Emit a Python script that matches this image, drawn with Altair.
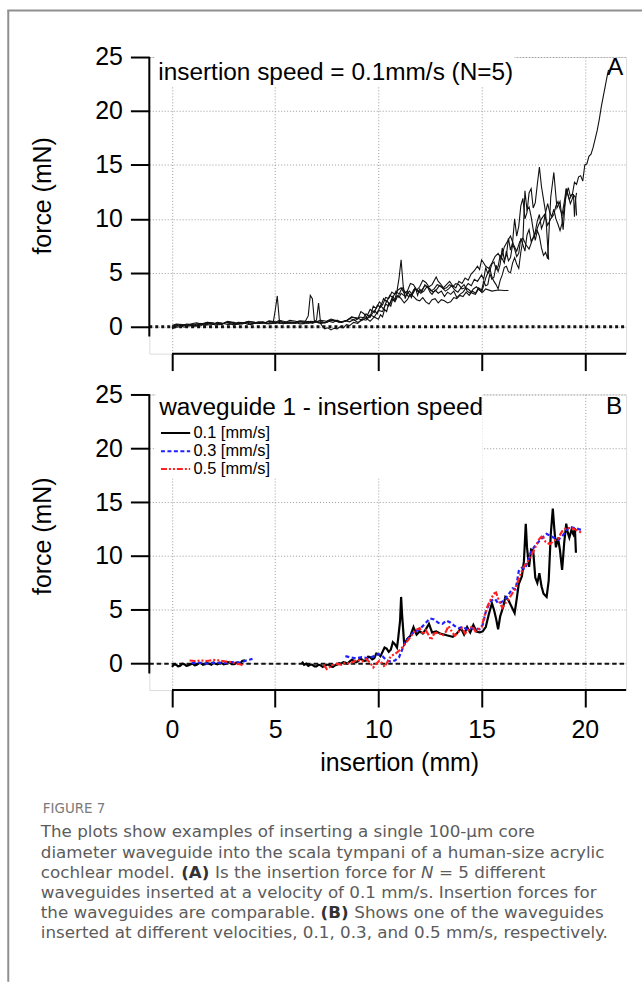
import altair as alt
import pandas as pd

# ------------------------------------------------------------------ data
x_ticks = [0, 5, 10, 15, 20]
y_ticks = [0, 5, 10, 15, 20, 25]

# Panel A: five waveguides at 0.1 mm/s  (insertion mm, force mN)
trace_a1 = [(0.0,-0.1),(0.2,0.05),(0.4,0.1),(0.6,-0.05),(0.8,0.2),(1.0,0.05),(1.2,0.15),(1.4,0.3),(1.6,0.1),
            (1.8,0.3),(2.0,0.2),(2.2,0.35),(2.4,0.2),(2.6,0.4),(2.8,0.3),(3.0,0.15),(3.2,0.35),(3.4,0.25),
            (3.6,0.4),(3.8,0.2),(4.0,0.35),(4.2,0.3),(4.4,0.45),(4.6,0.25),(4.8,0.45),(5.0,0.3),(5.2,0.4),
            (5.4,0.25),(5.6,0.45),(5.8,0.35),(6.0,0.3),(6.2,0.5),(6.4,0.35),(6.6,0.5),(6.8,0.3),(7.0,0.45),
            (7.2,0.55),(7.4,0.35),(7.6,0.5),(7.8,0.4),(8.0,0.6),(8.2,0.4),(8.4,0.55),(8.6,0.45),(8.8,0.65),
            (9.0,0.4),(9.2,0.6),(9.4,0.8),(9.6,0.5),(9.8,0.9),(10.0,0.7),(10.1,1.1),(10.2,0.9),
            (10.3,1.6),(10.4,1.4),(10.5,2.2),(10.6,1.9),(10.7,2.6),(10.8,2.4),(10.9,2.9),(11.0,2.7),(11.1,3.1),
            (11.3,2.8),(11.5,3.3),(11.65,3.0),(11.8,3.5),(11.95,3.2),(12.1,3.4),(12.25,3.8),(12.4,3.7),
            (12.55,3.3),(12.7,3.5),(12.85,3.9),(13.0,3.8),(13.15,3.5),(13.3,3.6),(13.45,3.9),(13.6,3.7),
            (13.75,4.0),(13.9,3.9),(14.05,3.5),(14.2,3.6),(14.35,4.0),(14.5,3.8),(14.65,4.4),(14.8,4.2),
            (15.0,4.8),(15.1,4.4),(15.2,5.5),(15.3,4.9),(15.4,5.2),(15.5,5.8),(15.6,6.0),(15.7,5.3),(15.8,5.6),
            (15.9,6.6),(16.0,6.3),(16.1,5.9),(16.2,7.0),(16.3,6.1),(16.4,6.4),(16.5,7.6),(16.6,7.2),(16.7,6.5),
            (16.8,6.8),(16.9,8.2),(17.0,7.6),(17.1,7.0),(17.2,8.5),(17.3,9.0),(17.4,7.9),(17.5,8.3),(17.6,8.8),
            (17.7,9.8),(17.8,10.4),(17.9,9.1),(18.0,9.6),(18.1,10.6),(18.2,11.4),(18.3,10.6),(18.4,10.2),
            (18.5,10.9),(18.6,10.0),(18.7,9.5),(18.8,8.9),(18.9,9.6),(19.0,11.0),(19.1,12.2),(19.2,12.9),
            (19.3,12.1),(19.4,12.3),(19.5,13.4),(19.6,13.2),(19.7,13.9),(19.8,14.0),(19.9,13.5),
            (20.0,15.0),(20.1,15.1),(20.2,15.8),(20.3,16.0),(20.4,16.6),(20.5,17.4),(20.6,18.2),(20.7,19.2),
            (20.8,20.4),(20.9,21.4),(21.0,22.4),(21.08,23.2),(21.15,23.8)]
trace_a2 = [(0.1,0.0),(0.3,0.15),(0.5,0.2),(0.7,0.05),(1.0,0.1),(1.2,0.25),(1.5,0.3),(1.7,0.15),(2.0,0.2),
            (2.2,0.4),(2.5,0.3),(2.7,0.2),(3.0,0.25),(3.2,0.4),(3.5,0.35),(3.7,0.2),(4.0,0.3),(4.2,0.45),
            (4.5,0.4),(4.7,0.25),(5.0,0.35),(5.2,0.5),(5.5,0.3),(5.7,0.45),(6.0,0.4),(6.2,0.25),(6.5,0.3),
            (6.7,0.5),(7.0,0.45),(7.2,0.3),(7.5,0.4),(7.7,0.6),(8.0,0.5),(8.2,0.4),(8.5,0.6),(8.7,0.9),
            (9.0,0.8),(9.2,0.6),(9.4,1.2),(9.6,0.9),(9.8,1.5),(9.95,1.2),(10.1,2.0),(10.25,1.6),(10.4,2.4),
            (10.55,2.1),(10.7,2.8),(10.8,2.5),(10.9,3.3),(11.0,4.5),(11.1,6.2),(11.2,3.8),(11.3,2.6),
            (11.4,3.3),(11.5,3.0),(11.6,2.7),(11.7,3.4),(11.8,3.6),(11.9,2.9),(12.0,3.5),(12.1,3.2),(12.25,3.9),
            (12.4,3.6),(12.5,3.2),(12.6,3.0),(12.75,3.4),(12.9,3.1),(13.05,3.3),(13.2,2.8),(13.35,3.2),
            (13.5,3.0),(13.65,3.3),(13.8,2.7),(13.95,3.0),(14.1,3.2),(14.25,3.6),(14.4,3.4),(14.55,3.1),
            (14.7,3.0),(14.85,3.5),(15.0,3.2),(15.1,3.8),(15.2,4.5),(15.3,5.0),(15.4,5.4),(15.5,4.6),
            (15.6,4.2),(15.7,3.9),(15.8,3.5),(15.9,4.3),(16.0,4.8),(16.1,5.5),(16.2,5.6),(16.3,5.1),(16.4,5.0),
            (16.5,5.9),(16.6,6.4),(16.7,5.8),(16.8,5.4),(16.9,6.9),(17.0,8.0),(17.1,12.6),(17.2,10.8),
            (17.3,11.1),(17.4,10.2),(17.5,9.0),(17.6,8.0),(17.7,8.9),(17.8,8.4),(17.9,7.3),(18.0,6.6),
            (18.1,6.9),(18.2,6.3),(18.35,12.0),(18.5,14.3),(18.65,11.0),(18.8,11.6),(18.95,9.0),(19.1,12.8),
            (19.25,11.8),(19.4,12.3),(19.55,12.0),(19.6,10.3)]
trace_a3 = [(0.0,-0.2),(0.2,-0.05),(0.4,0.0),(0.6,0.15),(0.9,0.2),(1.1,0.05),(1.4,0.1),(1.6,0.3),(1.9,0.3),
            (2.1,0.15),(2.4,0.2),(2.6,0.4),(2.9,0.35),(3.1,0.2),(3.4,0.3),(3.6,0.45),(3.9,0.25),(4.1,0.4),
            (4.4,0.4),(4.6,0.3),(4.9,0.35),(5.0,1.5),(5.1,2.85),(5.2,0.6),(5.4,0.4),(5.6,0.3),(5.9,0.35),
            (6.1,0.5),(6.4,0.45),(6.6,0.3),(6.9,0.5),(7.1,0.35),(7.4,0.4),(7.6,0.6),(7.9,0.55),(8.1,0.4),
            (8.4,0.5),(8.6,0.75),(8.9,0.6),(9.1,0.9),(9.4,0.8),(9.6,1.6),(9.8,1.3),(9.95,2.0),(10.1,1.8),
            (10.25,2.6),(10.4,2.3),(10.55,2.9),(10.7,2.7),(10.85,3.3),(11.0,3.0),(11.15,3.6),(11.3,3.2),
            (11.45,2.8),(11.6,3.0),(11.75,3.5),(11.9,3.4),(12.05,3.1),(12.2,3.3),(12.35,3.7),(12.5,3.5),
            (12.65,3.2),(12.8,3.4),(12.95,3.8),(13.1,3.6),(13.25,3.3),(13.4,3.5),(13.55,3.8),(13.7,3.4),
            (13.85,3.2),(14.0,3.6),(14.15,3.9),(14.3,3.3),(14.45,3.1),(14.6,3.5),(14.75,3.7),(14.9,3.4),
            (15.05,3.2),(15.2,3.5),(15.5,3.3),(15.8,3.4),(16.1,3.35),(16.3,3.35)]
trace_a4 = [(0.0,0.1),(0.2,0.25),(0.5,0.2),(0.7,0.1),(1.0,0.3),(1.2,0.35),(1.5,0.2),(1.7,0.4),(2.0,0.35),
            (2.2,0.2),(2.5,0.3),(2.7,0.45),(3.0,0.4),(3.2,0.25),(3.5,0.35),(3.7,0.5),(4.0,0.4),(4.2,0.3),
            (4.5,0.35),(4.7,0.55),(5.0,0.45),(5.2,0.3),(5.5,0.4),(5.7,0.6),(6.0,0.5),(6.2,0.35),(6.4,0.3),
            (6.6,1.0),(6.7,2.9),(6.8,2.6),(6.9,0.5),(7.0,0.6),(7.1,2.2),(7.2,0.3),(7.3,0.0),(7.4,-0.2),
            (7.55,-0.1),(7.7,-0.3),(7.85,-0.15),(8.0,-0.2),(8.15,0.0),(8.3,-0.1),(8.45,0.2),(8.6,0.1),
            (8.8,0.4),(9.0,0.3),(9.2,0.7),(9.4,0.6),(9.6,1.1),(9.8,0.9),(10.0,1.5),(10.2,1.4),(10.35,2.1),
            (10.5,1.9),(10.65,2.6),(10.8,2.3),(10.95,2.9),(11.1,2.6),(11.25,2.2),(11.4,2.5),(11.55,3.0),
            (11.7,2.8),(11.85,2.5),(12.0,2.4),(12.15,2.7),(12.3,2.3),(12.45,2.1),(12.6,2.5),(12.75,2.6),
            (12.9,2.2),(13.05,2.5),(13.2,2.4),(13.35,2.2),(13.5,2.3),(13.65,2.7),(13.8,2.6),(13.95,2.9),
            (14.1,2.8),(14.25,3.2),(14.4,2.9),(14.55,3.3),(14.7,3.1),(14.85,3.6),(15.0,3.4),(15.1,4.2),
            (15.2,3.8),(15.3,3.9),(15.4,4.9),(15.5,4.4),(15.6,4.6),(15.7,5.7),(15.8,5.1),(15.9,5.8),(16.0,7.3),
            (16.1,6.2),(16.2,6.6),(16.3,8.2),(16.4,7.1),(16.5,7.8),(16.6,10.0),(16.7,8.4),(16.8,9.3),
            (16.9,11.2),(17.0,11.9),(17.1,10.0),(17.2,10.6),(17.3,12.4),(17.4,12.8),(17.5,11.0),(17.6,11.5),
            (17.7,13.2),(17.8,14.8),(17.9,13.0),(18.0,11.8),(18.1,10.6),(18.2,7.5),(18.25,6.2)]
trace_a5 = [(0.0,0.0),(0.2,0.2),(0.5,0.1),(0.7,0.25),(1.0,0.2),(1.2,0.1),(1.5,0.3),(1.7,0.4),(2.0,0.25),
            (2.2,0.35),(2.5,0.3),(2.7,0.5),(3.0,0.35),(3.2,0.25),(3.5,0.3),(3.7,0.45),(4.0,0.4),(4.2,0.3),
            (4.5,0.35),(4.7,0.5),(5.0,0.4),(5.2,0.6),(5.5,0.45),(5.7,0.35),(6.0,0.4),(6.2,0.55),(6.5,0.5),
            (6.7,0.35),(7.0,0.45),(7.2,0.6),(7.5,0.5),(7.7,0.7),(8.0,0.55),(8.2,0.45),(8.5,0.6),(8.7,0.9),
            (9.0,0.7),(9.15,1.4),(9.3,1.2),(9.45,0.8),(9.6,0.9),(9.75,1.9),(9.9,1.7),(10.05,2.3),(10.2,2.0),
            (10.35,2.7),(10.5,2.6),(10.65,3.2),(10.8,3.0),(10.95,3.4),(11.1,3.6),(11.25,3.1),(11.4,3.3),
            (11.55,4.0),(11.7,3.9),(11.85,3.4),(12.0,3.7),(12.15,4.3),(12.3,4.1),(12.45,3.7),(12.6,3.9),
            (12.8,4.6),(12.9,4.2),(13.0,4.0),(13.15,3.6),(13.3,3.9),(13.45,4.2),(13.6,3.8),(13.75,3.6),
            (13.9,4.2),(14.05,4.0),(14.2,4.5),(14.35,4.3),(14.5,4.9),(14.65,5.2),(14.8,5.6),(14.9,5.3),
            (15.0,6.2),(15.1,5.9),(15.2,5.6),(15.35,5.4),(15.5,5.9),(15.65,6.5),(15.8,6.8),(15.95,6.3),
            (16.1,7.4),(16.25,7.9),(16.4,8.4),(16.55,7.6),(16.7,7.0),(16.85,7.9),(17.0,8.2),(17.15,7.6),
            (17.3,7.2),(17.45,8.0),(17.6,8.6),(17.75,9.4),(17.9,10.0),(18.05,10.4),(18.2,9.4),(18.35,10.0),
            (18.5,10.4),(18.6,11.2),(18.7,11.6),(18.8,10.9),(18.9,10.4),(19.0,11.5),(19.1,12.8),(19.2,12.1),
            (19.3,11.4),(19.4,11.9),(19.45,12.3),(19.5,10.2),(19.55,11.8),(19.6,12.4)]

# Panel B: waveguide 1 at three insertion speeds (two recorded stretches each)
speed_labels = ["0.1 [mm/s]", "0.3 [mm/s]", "0.5 [mm/s]"]
speed_01_part1 = [(0.0,-0.3),(0.1,-0.05),(0.2,-0.1),(0.3,-0.25),(0.4,-0.2),(0.5,0.0),(0.6,-0.05),(0.7,-0.2),
                  (0.8,-0.15),(0.9,-0.05),(1.0,0.0),(1.1,-0.15),(1.2,-0.1),(1.3,0.05),(1.4,0.05),(1.5,-0.1),
                  (1.6,-0.05),(1.7,0.05),(1.8,0.0),(1.9,-0.1),(2.0,0.1),(2.1,0.0),(2.2,-0.05),(2.3,0.1),
                  (2.4,0.05),(2.5,-0.05),(2.6,0.0),(2.7,0.15),(2.8,0.1),(2.9,-0.05),(3.0,-0.05),(3.1,0.1),
                  (3.2,0.1),(3.3,0.0),(3.4,0.25),(3.5,0.3),(3.55,0.2)]
speed_01_part2 = [(6.3,0.2),(6.4,-0.1),(6.5,0.0),(6.6,-0.2),(6.7,-0.1),(6.8,-0.1),(6.9,-0.25),(7.0,-0.25),
                  (7.1,-0.1),(7.2,-0.15),(7.3,-0.3),(7.4,-0.2),(7.5,-0.1),(7.6,-0.1),(7.7,-0.25),
                  (7.8,-0.3),(7.9,-0.15),(8.0,-0.1),(8.1,0.05),(8.2,0.0),(8.3,0.15),(8.4,0.1),(8.5,0.0),
                  (8.6,0.2),(8.7,0.35),(8.8,0.3),(8.9,0.15),(9.0,0.2),(9.1,0.45),(9.2,0.4),(9.3,0.25),(9.4,0.3),
                  (9.5,0.65),(9.6,0.6),(9.7,0.4),(9.8,0.5),(9.9,0.95),(10.0,0.9),(10.1,0.7),(10.2,1.1),(10.3,1.5),
                  (10.4,1.4),(10.5,1.1),(10.6,1.3),(10.7,2.0),(10.8,1.8),(10.9,1.5),(10.95,2.2),
                  (11.05,4.0),(11.1,6.2),(11.15,4.5),(11.25,1.8),(11.4,2.3),(11.55,2.6),(11.7,3.4),(11.85,2.7),
                  (12.0,3.0),(12.15,2.8),(12.3,3.2),(12.45,3.7),(12.6,2.9),(12.8,3.0),(13.0,2.8),(13.2,2.7),
                  (13.4,2.6),(13.6,2.5),(13.8,2.8),(14.0,3.3),(14.15,2.7),(14.3,3.4),(14.45,2.9),(14.6,3.6),
                  (14.75,3.0),(14.9,2.9),(15.05,3.0),(15.2,3.4),(15.35,4.6),(15.5,5.6),(15.6,5.0),(15.7,4.2),
                  (15.8,3.2),(15.9,4.4),(16.05,5.3),(16.15,6.2),(16.3,5.9),(16.45,5.3),(16.6,4.7),(16.7,6.0),
                  (16.8,7.4),(16.95,8.1),(17.05,9.5),(17.14,13.0),(17.2,10.8),(17.3,9.0),(17.4,10.6),(17.5,10.5),
                  (17.6,8.0),(17.7,7.5),(17.8,8.4),(17.9,7.2),(18.0,6.5),(18.15,6.2),(18.25,7.7),(18.35,12.0),
                  (18.45,14.4),(18.52,12.6),(18.6,10.8),(18.7,11.7),(18.8,10.5),(18.9,8.7),(18.95,9.9),
                  (19.0,11.2),(19.1,13.0),(19.17,12.2),(19.25,11.7),(19.35,12.4),(19.45,12.0),(19.52,12.6),
                  (19.57,10.3)]
speed_03_part1 = [(0.95,0.05),(1.3,0.1),(1.7,0.0),(2.1,0.1),(2.5,0.05),(2.9,0.15),(3.3,0.1),(3.6,0.3),(3.9,0.45)]
speed_03_part2 = [(8.4,0.7),(8.6,0.6),(8.9,0.5),(9.2,0.6),(9.5,0.5),(9.8,0.7),(10.0,0.9),(10.2,0.7),(10.4,0.3),
                  (10.6,0.2),(10.8,0.3),(11.0,0.6),(11.15,1.3),(11.3,2.0),(11.5,2.5),(11.7,2.9),(11.9,3.1),
                  (12.1,3.4),(12.3,3.8),(12.5,4.2),(12.7,4.1),(12.9,3.8),(13.1,3.7),(13.3,4.0),(13.5,3.8),
                  (13.7,3.5),(13.9,3.3),(14.1,3.4),(14.3,3.2),(14.5,3.3),(14.7,3.3),(14.9,3.2),(15.05,3.6),
                  (15.2,4.8),(15.35,5.5),(15.5,5.9),(15.65,6.0),(15.8,5.6),(15.95,5.7),(16.1,5.9),(16.3,6.4),
                  (16.5,7.0),(16.65,6.9),(16.8,8.6),(16.95,8.9),(17.1,8.8),(17.25,9.6),(17.4,10.4),(17.6,11.0),
                  (17.8,11.4),(18.0,11.8),(18.15,12.05),(18.3,11.9),(18.5,11.7),(18.7,11.5),(18.9,11.8),
                  (19.1,12.4),(19.3,12.7),(19.5,12.6),(19.7,12.5),(19.85,12.4)]
speed_05_part1 = [(0.85,0.3),(1.1,0.25),(1.4,0.3),(1.7,0.25),(2.0,0.35),(2.3,0.3),(2.6,0.2),(2.9,0.15),
                  (3.1,0.0),(3.3,-0.05),(3.5,-0.2)]
speed_05_part2 = [(7.35,-0.1),(7.5,-0.5),(7.65,-0.3),(7.8,-0.1),(8.0,0.0),(8.2,-0.1),(8.4,0.1),(8.6,0.0),
                  (8.8,0.2),(9.0,0.35),(9.2,0.2),(9.4,0.45),(9.6,0.1),(9.75,-0.35),(9.9,0.0),(10.05,0.3),
                  (10.2,0.0),(10.3,-0.3),(10.45,0.2),(10.6,0.7),(10.8,0.9),(11.0,1.2),(11.2,1.6),(11.4,2.1),
                  (11.6,2.6),(11.8,3.1),(12.0,3.3),(12.15,2.7),(12.3,3.1),(12.45,2.6),(12.55,2.2),(12.7,2.8),
                  (12.9,2.9),(13.1,2.6),(13.25,2.9),(13.4,3.5),(13.55,3.0),(13.7,2.6),(13.9,3.0),(14.05,3.3),
                  (14.2,2.8),(14.4,3.2),(14.55,3.5),(14.7,3.0),(14.85,3.2),(15.0,3.4),(15.15,4.5),(15.3,5.4),
                  (15.45,6.0),(15.6,6.5),(15.7,6.6),(15.85,5.8),(16.0,5.2),(16.15,5.6),(16.3,6.0),(16.45,6.4),
                  (16.6,6.9),(16.75,7.6),(16.9,8.4),(17.05,9.0),(17.2,9.4),(17.35,9.9),(17.5,10.4),(17.65,11.0),
                  (17.8,11.6),(17.95,11.9),(18.1,11.3),(18.3,11.1),(18.5,11.4),(18.7,11.6),(18.9,12.3),
                  (19.1,12.6),(19.3,12.6),(19.5,12.5),(19.7,12.3),(19.9,12.1)]

title_a = "insertion speed = 0.1mm/s (N=5)"
title_b = "waveguide 1 - insertion speed"
caption_head = "FIGURE 7"
caption_lines = [
    ["The plots show examples of inserting a single 100-μm core"],
    ["diameter waveguide into the scala tympani of a human-size acrylic"],
    ["cochlear model.", "(A)", "Is the insertion force for", "N", "= 5 different"],
    ["waveguides inserted at a velocity of 0.1 mm/s. Insertion forces for"],
    ["the waveguides are comparable.", "(B)", "Shows one of the waveguides"],
    ["inserted at different velocities, 0.1, 0.3, and 0.5 mm/s, respectively."],
]

# ------------------------------------------------------------------ frames
def pts(pairs, **extra):
    return pd.DataFrame([dict(x=a, y=b, **extra) for a, b in pairs])

top_df = pd.concat([pts(t, trace=f"w{i}") for i, t in
                    enumerate([trace_a1, trace_a2, trace_a3, trace_a4, trace_a5])])
bot_parts = [(speed_01_part1, 0, "a"), (speed_01_part2, 0, "b"),
             (speed_03_part1, 1, "a"), (speed_03_part2, 1, "b"),
             (speed_05_part1, 2, "a"), (speed_05_part2, 2, "b")]
bot_df = pd.concat([pts(p, speed=speed_labels[k], part=speed_labels[k] + s) for p, k, s in bot_parts])

FONT = "Liberation Sans"
X_DOM = [-1.1, 22.0]
TOP_DOM = [-2.5, 25.0]
BOT_DOM = [-2.45, 25.0]
W, H_TOP, H_BOT = 479, 298, 297

grid = dict(grid=True, gridColor="#9a9a9a", gridDash=[1, 2], gridWidth=1, domain=False,
            tickColor="black", tickWidth=2, labelFont=FONT, labelColor="black",
            titleFont=FONT, titleColor="black", titleFontWeight="normal")

def xaxis(show):
    if show:
        return alt.Axis(values=x_ticks, tickSize=17, labelFontSize=25, labelPadding=11,
                        title="insertion (mm)", titleFontSize=25, titleX=251, titleY=73,
                        titleBaseline="middle", titleAlign="center", **grid)
    return alt.Axis(values=x_ticks, tickSize=17, labels=False, title=None, **grid)

def yaxis(ty):
    return alt.Axis(values=y_ticks, tickSize=19, labelFontSize=25, labelPadding=8,
                    title="force (mN)", titleFontSize=25, titleX=-107, titleY=ty,
                    titleBaseline="middle", titleAlign="center", **grid)

def enc(show_x, ydom, ty):
    return dict(
        x=alt.X("x:Q", scale=alt.Scale(domain=X_DOM, nice=False, zero=False), axis=xaxis(show_x)),
        y=alt.Y("y:Q", scale=alt.Scale(domain=ydom, nice=False, zero=False), axis=yaxis(ty)),
    )

color_scale = alt.Scale(domain=speed_labels, range=["#000000", "#1f1fff", "#ff1f1f"])
dash_scale = alt.Scale(domain=speed_labels, range=[[1, 0], [4, 2.5], [6, 2, 2, 2, 2, 2]])


def panel(show_x, ydom, ty, height, title, letter, box, zero_dash, zero_w, lines):
    e = enc(show_x, ydom, ty)
    bx = pd.DataFrame([dict(x=box[0], x2=box[1], y=box[2], y2=box[3])])
    white = alt.Chart(bx).mark_rect(fill="white", stroke=None).encode(
        x=e["x"], x2="x2:Q", y=e["y"], y2="y2:Q")
    zero = alt.Chart(pd.DataFrame([dict(x=X_DOM[0], x2=X_DOM[1], y=0)])).mark_rule(
        color="#111", strokeWidth=zero_w, strokeDash=zero_dash).encode(x=e["x"], x2="x2:Q", y=e["y"])
    yline = alt.Chart(pd.DataFrame([dict(x=X_DOM[0], y=-0.92, y2=25)])).mark_rule(
        color="black", strokeWidth=2).encode(x=e["x"], y=e["y"], y2="y2:Q")
    xline = alt.Chart(pd.DataFrame([dict(x=0, x2=X_DOM[1], y=ydom[0])])).mark_rule(
        color="black", strokeWidth=2).encode(x=e["x"], x2="x2:Q", y=e["y"])
    ttl = alt.Chart(pd.DataFrame([dict(x=title[0], y=title[1], t=title[2])])).mark_text(
        font=FONT, fontSize=24.5, align="left", baseline="middle", color="black").encode(
        x=e["x"], y=e["y"], text="t:N")
    let = alt.Chart(pd.DataFrame([dict(x=letter[0], y=letter[1], t=letter[2])])).mark_text(
        font=FONT, fontSize=24.5, align="center", baseline="middle", color="black").encode(
        x=e["x"], y=e["y"], text="t:N")
    return [white, zero] + lines(e) + [yline, xline, ttl, let]


def top_lines(e):
    return [alt.Chart(top_df).mark_line(color="#111", strokeWidth=1.1).encode(
        x=e["x"], y=e["y"], detail="trace:N")]


def bot_lines(e):
    main = alt.Chart(bot_df).mark_line(strokeWidth=2.2).encode(
        x=e["x"], y=e["y"], detail="part:N",
        color=alt.Color("speed:N", scale=color_scale, legend=None),
        strokeDash=alt.StrokeDash("speed:N", scale=dash_scale, legend=None))
    leg = pd.DataFrame([dict(x=-0.535, x2=0.88, y=r, lx=1.04, speed=s)
                        for r, s in zip([21.42, 19.73, 18.07], speed_labels)])
    leg_rule = alt.Chart(leg).mark_rule(strokeWidth=2).encode(
        x=e["x"], x2="x2:Q", y=e["y"],
        color=alt.Color("speed:N", scale=color_scale, legend=None),
        strokeDash=alt.StrokeDash("speed:N", scale=dash_scale, legend=None))
    leg_txt = alt.Chart(leg).mark_text(font=FONT, fontSize=16.5, align="left", baseline="middle",
                                       color="black").encode(
        x=alt.X("lx:Q", scale=alt.Scale(domain=X_DOM, nice=False, zero=False), axis=xaxis(True)),
        y=e["y"], text="speed:N")
    return [main, leg_rule, leg_txt]


# page decoration (grey frame) and page extent, placed relative to top panel origin (149, 54)
OX, OY = 149, 54
deco_df = pd.DataFrame([{"k": 1}])
frame_v = alt.Chart(deco_df).mark_rule(color="#8f8f8f", strokeWidth=2).encode(
    x=alt.value(7.3 - OX), y=alt.value(7.3 - OY), y2=alt.value(983 - OY))
frame_h = alt.Chart(deco_df).mark_rule(color="#8f8f8f", strokeWidth=2).encode(
    x=alt.value(6.3 - OX), x2=alt.value(644 - OX), y=alt.value(7.3 - OY))
extent = alt.Chart(deco_df).mark_rule(strokeOpacity=0, color="white").encode(
    x=alt.value(0 - OX), x2=alt.value(644 - OX), y=alt.value(0 - OY), y2=alt.value(983 - OY))

top_layers = panel(False, TOP_DOM, 139, H_TOP, (-0.665, 23.52, title_a), (21.47, 23.98, "A"),
                   (-0.85, 16.6, 22.3, 25.3), [3, 3], 3, top_lines)
top = alt.layer(*top_layers, frame_v, frame_h, extent).properties(width=W, height=H_TOP)

# caption, relative to bottom panel origin (149, 393)
BX, BY = 149, 393
CAP_FONT = "DejaVu Sans"
cap_color = "#5c5c5c"
cap_marks = [alt.Chart(deco_df).mark_text(font=CAP_FONT, fontSize=13.5, color="#7a7a7a", align="left",
                                          baseline="middle", text=caption_head).encode(
    x=alt.value(42 - BX), y=alt.value(809 - BY))]
seg_x = {2: [40, 181, 215, 422, 440], 4: [40, 321, 355]}
for i, segs in enumerate(caption_lines):
    yy = 833 + i * 20.3
    xs = seg_x.get(i, [40])
    for j, s in enumerate(segs):
        style = {}
        if s in ("(A)", "(B)"):
            style = dict(fontWeight="bold", color="#333333")
        elif s == "N":
            style = dict(fontStyle="italic")
        cap_marks.append(alt.Chart(deco_df).mark_text(
            font=CAP_FONT, fontSize=16.8, color=style.pop("color", cap_color), align="left",
            baseline="middle", text=s, **style).encode(x=alt.value(xs[j] - BX), y=alt.value(yy - BY)))

bot_layers = panel(True, BOT_DOM, 142, H_BOT, (-0.62, 23.7, title_b), (21.42, 23.8, "B"),
                   (-0.8, 15.05, 17.2, 25.3), [4.5, 3], 2, bot_lines)
bottom = alt.layer(*bot_layers, *cap_marks).properties(width=W, height=H_BOT)

chart = alt.vconcat(top, bottom, spacing=41, bounds="flush", padding=0).configure_view(
    stroke=None).configure(background="white")

chart.save("out.html", embed_options={"renderer": "svg", "actions": False})
